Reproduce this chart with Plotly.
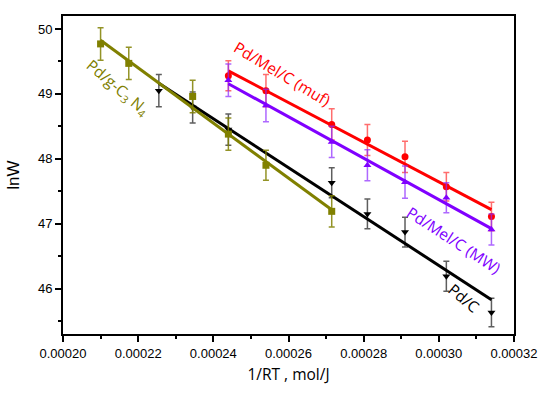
import numpy as np
import plotly.graph_objects as go

# Pd/g-C3N4
x_gcn = [0.00021, 0.0002175, 0.0002345, 0.000244, 0.000254, 0.0002715]
y_gcn = [49.77, 49.47, 48.96, 48.38, 47.90, 47.19]
e_gcn = [0.25, 0.25, 0.25, 0.25, 0.23, 0.24]

# Pd/C
x_pdc = [0.0002255, 0.0002345, 0.000244, 0.0002715, 0.000281, 0.000291, 0.000302, 0.000314]
y_pdc = [49.05, 48.79, 48.45, 47.63, 47.15, 46.87, 46.19, 45.63]
e_pdc = [0.25, 0.24, 0.24, 0.23, 0.23, 0.23, 0.23, 0.22]

# Pd/Mel/C (muf)
x_muf = [0.000244, 0.000254, 0.0002715, 0.000281, 0.000291, 0.000302, 0.000314]
y_muf = [49.28, 49.05, 48.53, 48.29, 48.03, 47.57, 47.11]
e_muf = [0.23, 0.25, 0.24, 0.24, 0.24, 0.22, 0.22]

# Pd/Mel/C (MW)
x_mw = [0.000244, 0.000254, 0.0002715, 0.000281, 0.000291, 0.000302, 0.000314]
y_mw = [49.21, 48.82, 48.26, 47.90, 47.64, 47.40, 46.91]
e_mw = [0.25, 0.25, 0.24, 0.24, 0.25, 0.23, 0.24]

series = [
    ("Pd/Mel/C (muf)", x_muf, y_muf, e_muf, "#ff0000", "rgba(255,60,60,0.75)", "circle"),
    ("Pd/Mel/C (MW)", x_mw, y_mw, e_mw, "#8000ff", "rgba(140,40,255,0.7)", "triangle-up"),
    ("Pd/C", x_pdc, y_pdc, e_pdc, "#000000", "rgba(40,40,40,0.75)", "triangle-down"),
    ("Pd/g-C3N4", x_gcn, y_gcn, e_gcn, "#808000", "rgba(128,128,0,0.85)", "square"),
]

fig = go.Figure()
for name, xs, ys, es, col, ecol, sym in series:
    xa = np.array(xs)
    ya = np.array(ys)
    k, b = np.polyfit(xa, ya, 1)
    xf = np.array([xa.min(), xa.max()])
    fig.add_trace(go.Scatter(
        x=xs, y=ys, mode="markers",
        marker=dict(symbol=sym, size=7, color=col),
        error_y=dict(type="data", array=es, color=ecol, thickness=1.5, width=3),
        showlegend=False))
    fig.add_trace(go.Scatter(
        x=xf, y=k * xf + b, mode="lines",
        line=dict(color=col, width=3), showlegend=False))

ann_font = "Open Sans, DejaVu Sans, sans-serif"
fig.add_annotation(x=0.0002146, y=49.10, xref="x", yref="y",
                   text="Pd/g-C<sub>3</sub> N<sub>4</sub>", showarrow=False, textangle=40,
                   font=dict(family=ann_font, size=15.5, color="#808000"))
fig.add_annotation(x=0.0002585, y=49.31, xref="x", yref="y",
                   text="Pd/Mel/C (muf)", showarrow=False, textangle=31,
                   font=dict(family=ann_font, size=15.5, color="#ff0000"))
fig.add_annotation(x=0.000304, y=46.75, xref="x", yref="y",
                   text="Pd/Mel/C (MW)", showarrow=False, textangle=33,
                   font=dict(family=ann_font, size=15.5, color="#8000ff"))
fig.add_annotation(x=0.0003067, y=45.86, xref="x", yref="y",
                   text="Pd/C", showarrow=False, textangle=40,
                   font=dict(family=ann_font, size=15.5, color="#000000"))

tickfont = dict(family="Liberation Sans, Arial, sans-serif", size=13, color="#000")
fig.update_xaxes(range=[0.0002, 0.00032], tickvals=[0.0002, 0.00022, 0.00024, 0.00026, 0.00028, 0.0003, 0.00032],
                 ticktext=["0.00020", "0.00022", "0.00024", "0.00026", "0.00028", "0.00030", "0.00032"],
                 ticks="outside", ticklen=6, tickwidth=1.5, tickcolor="#000",
                 minor=dict(dtick=0.00001, tick0=0.0002, ticks="outside", ticklen=3, tickwidth=1.5, tickcolor="#000"),
                 showline=True, linecolor="#000", linewidth=2, mirror=True,
                 showgrid=False, zeroline=False, tickfont=tickfont,
                 title=dict(text="1/RT , mol/J", font=dict(family="Open Sans, sans-serif", size=15.5, color="#000"), standoff=10))
fig.update_yaxes(range=[45.3, 50.2], tickvals=[46, 47, 48, 49, 50],
                 ticks="outside", ticklen=6, tickwidth=1.5, tickcolor="#000",
                 minor=dict(dtick=0.5, tick0=45.5, ticks="outside", ticklen=3, tickwidth=1.5, tickcolor="#000"),
                 showline=True, linecolor="#000", linewidth=2, mirror=True,
                 showgrid=False, zeroline=False, tickfont=tickfont,
                 title=dict(text="lnW", font=dict(family="Liberation Sans, Arial, sans-serif", size=17, color="#000"), standoff=14))
fig.update_layout(width=550, height=393, margin=dict(l=60, r=33, t=16, b=56),
                  plot_bgcolor="white", paper_bgcolor="white")
fig.write_html("out.html", config={"displayModeBar": False},
               post_script="document.body.style.margin='0';")
